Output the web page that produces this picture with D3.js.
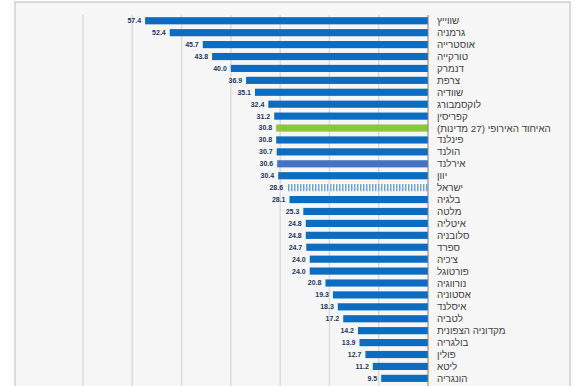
<!DOCTYPE html>
<html>
<head>
<meta charset="utf-8">
<script src="https://cdn.jsdelivr.net/npm/d3@7/dist/d3.min.js"></script>
<style>
    body { margin: 0; background: #ffffff; }
    svg { display: block; }
</style>
</head>
<body>
<svg class="d3" width="580" height="386"></svg>
<script>
// Data
const countries = [
    'שווייץ', 'גרמניה', 'אוסטרייה', 'טורקייה', 'דנמרק', 'צרפת', 'שוודיה',
    'לוקסמבורג', 'קפריסין', 'האיחוד האירופי (27 מדינות)', 'פינלנד', 'הולנד',
    'אירלנד', 'יוון', 'ישראל', 'בלגיה', 'מלטה', 'איטליה', 'סלובניה', 'ספרד',
    'צ\'כיה', 'פורטוגל', 'נורווגיה', 'אסטוניה', 'איסלנד', 'לטביה',
    'מקדוניה הצפונית', 'בולגריה', 'פולין', 'ליטא', 'הונגריה'
];
const values = [
    57.4, 52.4, 45.7, 43.8, 40.0, 36.9, 35.1,
    32.4, 31.2, 30.8, 30.8, 30.7,
    30.6, 30.4, 28.6, 28.1, 25.3, 24.8, 24.8, 24.7,
    24.0, 24.0, 20.8, 19.3, 18.3, 17.2,
    14.2, 13.9, 12.7, 11.2, 9.5
];
const gridTicks = [10, 20, 30, 40, 50, 60, 70];

const rows = countries.map((c, i) => ({ name: c, value: values[i] }));

const svg = d3.select('svg.d3');

// frame
svg.append('rect')
    .attr('x', 15).attr('y', 2)
    .attr('width', 555).attr('height', 400)
    .attr('fill', '#f6f6f6')
    .attr('stroke', '#cfcfcf')
    .attr('stroke-width', 1.5);

const x = d3.scaleLinear().domain([0, 70]).range([428, 83]);
const y = d3.scaleBand()
    .domain(countries)
    .range([14.8, 14.8 + 31 * 11.92])
    .paddingInner(0.4)
    .paddingOuter(0.2);

// striped pattern for Israel
const defs = svg.append('defs');
const pat = defs.append('pattern')
    .attr('id', 'stripes')
    .attr('patternUnits', 'userSpaceOnUse')
    .attr('width', 3).attr('height', 10);
pat.append('rect').attr('width', 3).attr('height', 10).attr('fill', '#ffffff');
pat.append('rect').attr('width', 1.5).attr('height', 10).attr('fill', '#6aa4da');

// gridlines
svg.selectAll('line.grid')
    .data(gridTicks)
    .enter()
    .append('line')
    .attr('class', 'grid')
    .attr('x1', d => x(d)).attr('x2', d => x(d))
    .attr('y1', 15).attr('y2', 386)
    .attr('stroke', '#dcdcdc')
    .attr('stroke-width', 1.5);

function barFill(d) {
    if (d.name.startsWith('האיחוד')) return '#8cc63e';
    if (d.name === 'אירלנד') return '#4472c4';
    if (d.name === 'ישראל') return 'url(#stripes)';
    return '#0b6cc1';
}

svg.selectAll('rect.bar')
    .data(rows)
    .enter()
    .append('rect')
    .attr('class', 'bar')
    .attr('x', d => x(d.value))
    .attr('y', d => y(d.name))
    .attr('width', d => x(0) - x(d.value))
    .attr('height', y.bandwidth())
    .attr('fill', barFill);

// baseline
svg.append('line')
    .attr('x1', x(0)).attr('x2', x(0))
    .attr('y1', 15).attr('y2', 386)
    .attr('stroke', '#7f7f7f')
    .attr('stroke-width', 1);

// value labels
svg.selectAll('text.val')
    .data(rows)
    .enter()
    .append('text')
    .attr('class', 'val')
    .attr('x', d => x(d.value) - 4)
    .attr('y', d => y(d.name) + y.bandwidth() / 2)
    .attr('dy', '0.35em')
    .attr('text-anchor', 'end')
    .attr('font-family', 'Liberation Sans, Arial, sans-serif')
    .attr('font-size', '7px')
    .attr('font-weight', 'bold')
    .attr('fill', '#203864')
    .text(d => d.value.toFixed(1));

// country labels
svg.selectAll('text.lbl')
    .data(rows)
    .enter()
    .append('text')
    .attr('class', 'lbl')
    .attr('x', 437)
    .attr('y', d => y(d.name) + y.bandwidth() / 2)
    .attr('dy', '0.36em')
    .attr('direction', 'rtl')
    .attr('text-anchor', 'end')
    .attr('font-family', 'Liberation Sans, Arial, sans-serif')
    .attr('font-size', '9.8px')
    .attr('fill', '#404040')
    .text(d => d.name);
</script>
</body>
</html>
